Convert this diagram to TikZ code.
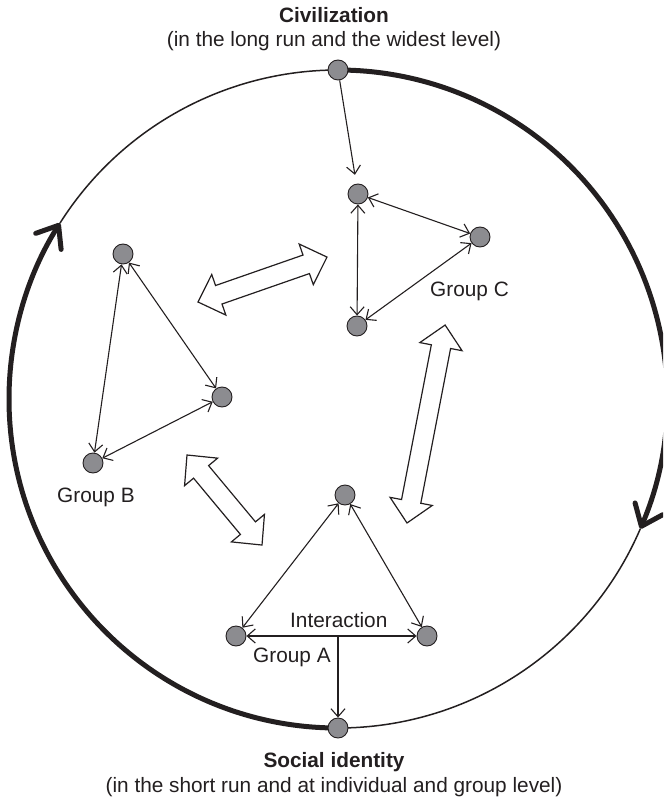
\documentclass[tikz,border=0pt]{standalone}
\usepackage{fontspec}
\setmainfont{Liberation Sans}
\usetikzlibrary{arrows.meta}
\definecolor{ink}{RGB}{35,31,32}
\definecolor{dotgray}{RGB}{140,140,144}
\newcommand{\blockarr}[4]{\draw[blockarrow, shift={(#1,#2)}, rotate=#3] (0,0) -- (22,21.5) -- (22,9.8) -- ({#4-22},9.8) -- ({#4-22},21.5) -- (#4,0) -- ({#4-22},-21.5) -- ({#4-22},-9.8) -- (22,-9.8) -- (22,-21.5) -- cycle;}
\begin{document}
\begin{tikzpicture}[x=1pt,y=1pt,
  dot/.style={circle, draw=ink, line width=0.9pt, fill=dotgray, minimum size=20pt, inner sep=0pt},
  link/.style={draw=ink, line width=1.1pt, {Straight Barb[length=8pt,width=14pt]}-{Straight Barb[length=8pt,width=14pt]}},
  oneway/.style={draw=ink, line width=1.1pt, -{Straight Barb[length=8pt,width=14pt]}},
  ring/.style={draw=ink, line width=1.5pt},
  thickring/.style={draw=ink, line width=5pt, -{Straight Barb[length=19pt,width=30pt,round]}},
  blockarrow/.style={draw=ink, fill=white, line width=1.2pt, line join=miter},
  lbl/.style={font=\fontsize{20.8}{25}\selectfont, inner sep=0pt, text=ink},
  ttl/.style={font=\fontsize{20.8}{25}\selectfont\bfseries, inner sep=0pt, text=ink},
]
\useasboundingbox (0,0) rectangle (663,-799);
\clip (0,0) rectangle (663,-799);
\coordinate (ctr) at (338,-399);
% ring
\draw[ring] (ctr) ++(147.7:329) arc[start angle=147.7, end angle=90, radius=329];
\draw[ring] (ctr) ++(-23.2:329) arc[start angle=-23.2, end angle=-90, radius=329];
\draw[thickring] (ctr) ++(90:329) arc[start angle=90, end angle=-23.2, radius=329];
\draw[thickring] (ctr) ++(-90:329) arc[start angle=-90, end angle=-212.3, radius=329];
% block arrows
\blockarr{198}{-302}{19.2}{136.6}
\blockarr{187}{-455}{-50.2}{117.2}
\blockarr{407}{-523}{79.1}{201.6}
% nodes
\node[dot] (civ) at (338,-70) {};
\node[dot] (soc) at (338,-728) {};
\node[dot] (a1) at (345,-495) {};
\node[dot] (a2) at (236,-636) {};
\node[dot] (a3) at (427,-636) {};
\node[dot] (b1) at (123,-254) {};
\node[dot] (b2) at (222,-397) {};
\node[dot] (b3) at (93,-463) {};
\node[dot] (c1) at (358,-194) {};
\node[dot] (c2) at (480,-237) {};
\node[dot] (c3) at (357,-326) {};
\coordinate (amid) at (338,-636);
% connectors
\draw[link] (a1) -- (a2);
\draw[link] (a1) -- (a3);
\draw[link] (a2) -- (a3);
\draw[oneway] (amid) -- (soc);
\draw[link] (b1) -- (b3);
\draw[link] (b1) -- (b2);
\draw[link] (b2) -- (b3);
\draw[link] (c1) -- (c3);
\draw[link] (c1) -- (c2);
\draw[link] (c2) -- (c3);
\draw[oneway, shorten >=9pt] (civ) -- (c1);
% labels
\node[ttl, anchor=base] (t1) at (334,-23) {Civilization};
\node[lbl, anchor=base] (t2) at (334,-47) {(in the long run and the widest level)};
\node[ttl, anchor=base] (t3) at (334,-767) {Social identity};
\node[lbl, anchor=base] (t4) at (334,-792) {(in the short run and at individual and group level)};
\node[lbl, anchor=base west] (la) at (253,-662) {Group A};
\node[lbl, anchor=base west] (lb) at (57,-502) {Group B};
\node[lbl, anchor=base west] (lc) at (430,-296) {Group C};
\node[lbl, anchor=base west] (li) at (290,-627) {Interaction};
\end{tikzpicture}
\end{document}
